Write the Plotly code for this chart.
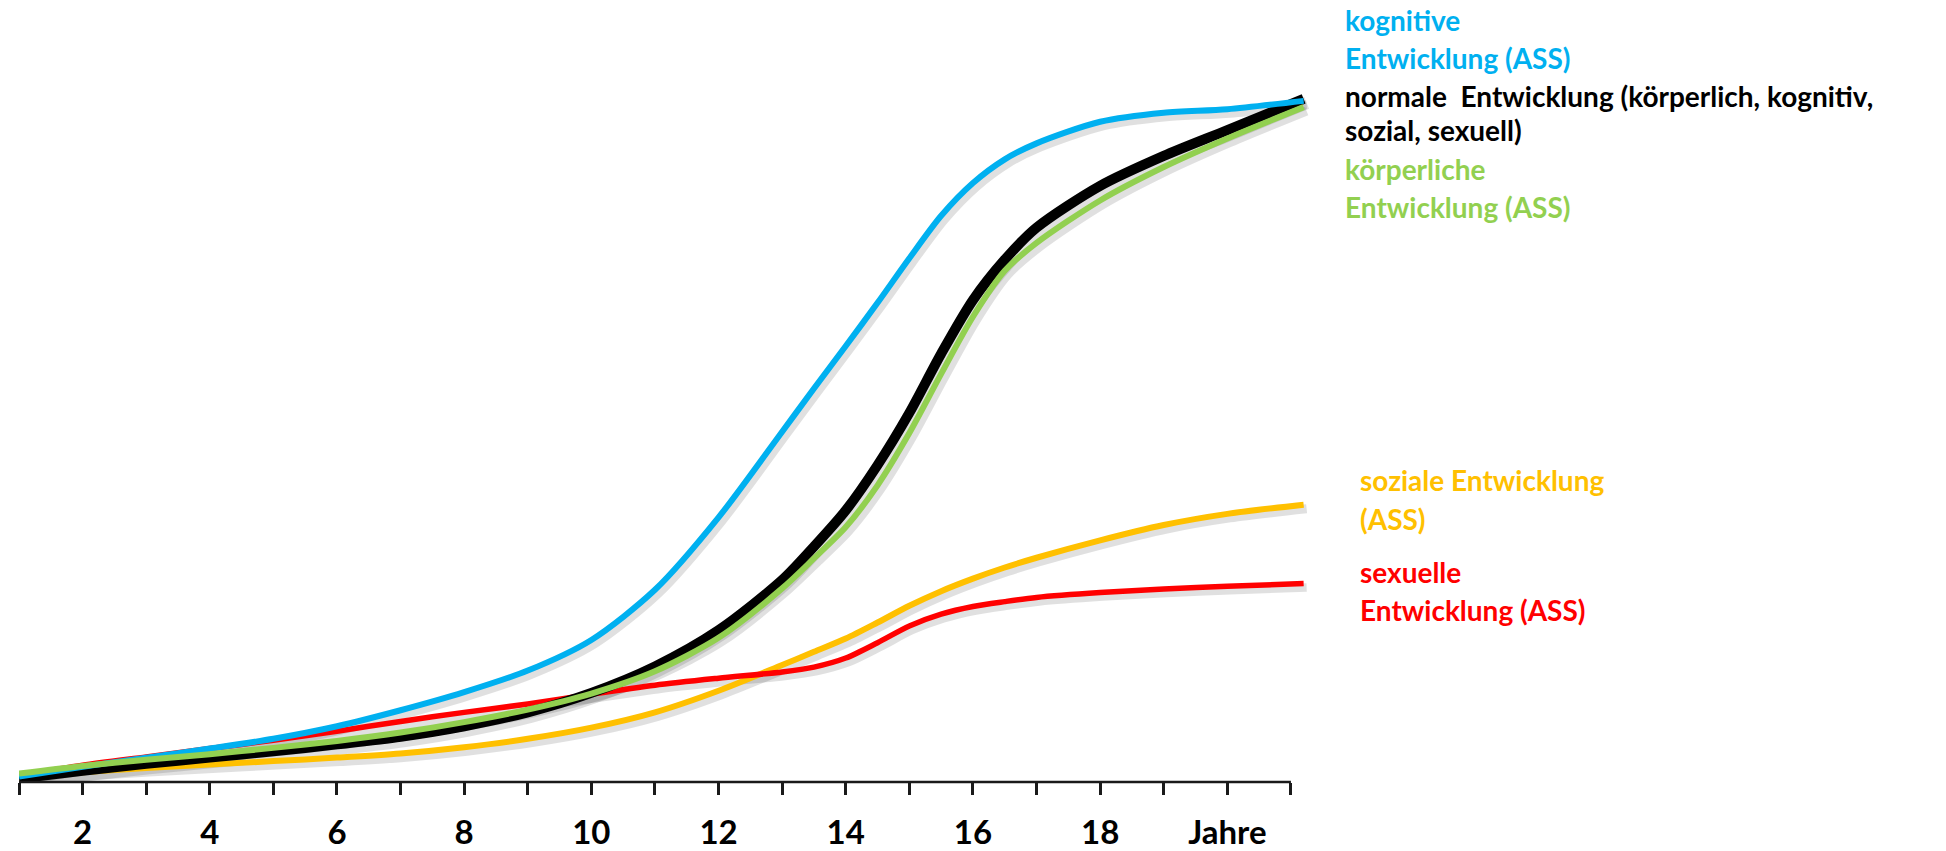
import plotly.graph_objects as go

# ---------------- data (ages in years, development level in arbitrary units) -------------
AGES = [1, 2, 3, 4, 5, 6, 7, 8, 9, 10, 11, 12, 13, 13.5, 14, 14.5, 15, 15.5, 16, 16.5, 17, 18, 19, 20, 21.2]

normal    = [0.5, 1.6, 2.6, 3.5, 4.4, 5.4, 6.5, 8.0, 10.0, 12.8, 16.6, 21.8, 29.0, 33.8, 39.0, 45.5, 53.0, 61.5, 69.2, 75.0, 79.6, 85.6, 89.9, 93.6, 98.1]
kognitiv  = [0.8, 2.2, 3.5, 4.8, 6.2, 8.0, 10.3, 12.9, 16.0, 20.4, 27.6, 38.0, 50.3, 56.5, 62.6, 68.8, 75.2, 81.3, 86.0, 89.4, 91.7, 94.8, 96.1, 96.6, 97.8]
koerper   = [1.2, 2.3, 3.2, 4.0, 4.9, 5.9, 7.1, 8.6, 10.4, 12.7, 15.9, 20.7, 27.8, 32.1, 36.6, 42.6, 50.1, 58.6, 66.8, 73.4, 77.4, 83.5, 88.3, 92.4, 96.9]
sozial    = [0.6, 1.4, 2.0, 2.5, 3.0, 3.5, 4.1, 5.0, 6.2, 7.8, 10.0, 13.1, 16.8, 18.7, 20.6, 22.9, 25.3, 27.4, 29.2, 30.8, 32.2, 34.7, 36.9, 38.5, 39.8]
sexuell   = [0.9, 2.4, 3.6, 4.8, 6.0, 7.3, 8.7, 10.0, 11.2, 12.6, 13.9, 14.9, 15.8, 16.5, 17.8, 20.0, 22.4, 24.1, 25.2, 25.9, 26.5, 27.2, 27.7, 28.1, 28.5]

TICK_VALUES = list(range(1, 22))
TICK_LABELS = ["" if v % 2 else ("Jahre" if v == 20 else str(v)) for v in TICK_VALUES]

# ---------------- styling -------------
BLUE, BLACK, GREEN, ORANGE, RED = "#00B0F0", "#000000", "#92D050", "#FFC000", "#FF0000"
FONT = "Lato, 'Open Sans', sans-serif"

W, H = 1946, 851
ML, MR, MT, MB = 19, 636, 0, 65
X_RANGE = [1, 21.3]
PLOT_W = W - ML - MR
PLOT_H = H - MT - MB
Y_RANGE = [0, PLOT_H / 7.0]

series = [
    # name, values, colour, width  (drawing order bottom -> top)
    ("soziale Entwicklung (ASS)", sozial, ORANGE, 6),
    ("sexuelle Entwicklung (ASS)", sexuell, RED, 5.5),
    ("normale Entwicklung", normal, BLACK, 10),
    ("kognitive Entwicklung (ASS)", kognitiv, BLUE, 6),
    ("körperliche Entwicklung (ASS)", koerper, GREEN, 6),
]

fig = go.Figure()

# soft drop shadows (offset copies of each series)
dx = 3 * (X_RANGE[1] - X_RANGE[0]) / PLOT_W
dy = 4 * (Y_RANGE[1] - Y_RANGE[0]) / PLOT_H
for name, vals, col, wdt in series:
    fig.add_trace(go.Scatter(
        x=[a + dx for a in AGES], y=[v - dy for v in vals], mode="lines",
        line=dict(color="rgba(0,0,0,0.12)", width=wdt + 3, shape="spline", smoothing=0.8),
        hoverinfo="skip", showlegend=False))

for name, vals, col, wdt in series:
    fig.add_trace(go.Scatter(
        x=AGES, y=vals, mode="lines", name=name,
        line=dict(color=col, width=wdt, shape="spline", smoothing=0.8),
        showlegend=False))

# axis baseline
fig.add_shape(type="line", xref="x", yref="paper", x0=TICK_VALUES[0], x1=TICK_VALUES[-1],
              y0=0, y1=0, line=dict(color="#1a1a1a", width=2.5))


def px_x(px):
    return (px - ML) / PLOT_W


def px_y(py):
    return (H - MB - py) / PLOT_H


labels = [
    ("kognitive", BLUE, 1343, 20),
    ("Entwicklung (ASS)", BLUE, 1343, 58),
    ("normale\u00a0 Entwicklung (körperlich, kognitiv,", BLACK, 1343, 96),
    ("sozial, sexuell)", BLACK, 1343, 131),
    ("körperliche", GREEN, 1343, 170),
    ("Entwicklung (ASS)", GREEN, 1343, 208),
    ("soziale Entwicklung", ORANGE, 1358, 482),
    ("(ASS)", ORANGE, 1358, 522),
    ("sexuelle", RED, 1358, 575),
    ("Entwicklung (ASS)", RED, 1358, 613),
]
for txt, col, px, py in labels:
    fig.add_annotation(text=txt, xref="paper", yref="paper", x=px_x(px), y=px_y(py),
                       xanchor="left", yanchor="middle", showarrow=False,
                       font=dict(family=FONT, size=28, color=col, weight="bold"))

fig.update_layout(
    width=W, height=H, margin=dict(l=ML, r=MR, t=MT, b=MB, pad=0),
    plot_bgcolor="white", paper_bgcolor="white", showlegend=False,
    xaxis=dict(range=X_RANGE, showgrid=False, zeroline=False, showline=False,
               tickmode="array", tickvals=TICK_VALUES, ticktext=TICK_LABELS,
               ticks="outside", ticklen=12, tickwidth=2.5, tickcolor="#1a1a1a",
               ticklabelstandoff=9,
               tickfont=dict(family=FONT, size=33, color="black", weight="bold")),
    yaxis=dict(range=Y_RANGE, visible=False, showgrid=False, zeroline=False),
)

fig.write_html("out.html")
